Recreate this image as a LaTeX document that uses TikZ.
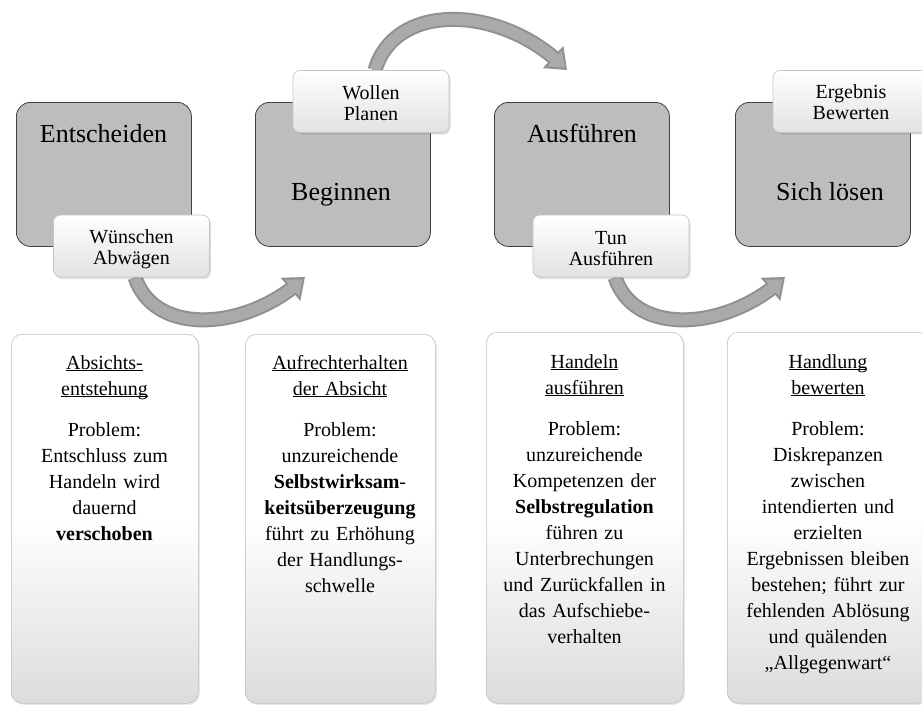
\documentclass[tikz,border=0pt]{standalone}
\usepackage{fontspec}
\setmainfont{Liberation Serif}
\usetikzlibrary{arrows.meta,bending,shadows,backgrounds}
\definecolor{boxgray}{HTML}{BDBDBD}
\definecolor{boxline}{HTML}{404040}
\definecolor{arrowdark}{HTML}{909090}
\definecolor{arrowlight}{HTML}{AAAAAA}
\definecolor{lblbot}{HTML}{E2E2E2}
\definecolor{lblline}{HTML}{C4C4C4}
\definecolor{panelbot}{HTML}{DCDCDC}
\definecolor{panelline}{HTML}{BFBFBF}
\newcommand\ulbox[1]{\underline{\smash{#1}}}
\tikzset{
  phasebox/.style={draw=boxline, line width=0.8pt, fill=boxgray, rounded corners=14pt,
    minimum width=175pt, minimum height=144pt, anchor=north west, inner sep=0pt},
  phasetext/.style={font=\fontsize{26}{30}\selectfont, anchor=base, inner sep=0pt},
  tagbox/.style={draw=lblline, line width=0.6pt, top color=white, bottom color=lblbot,
    rounded corners=7pt, minimum width=156pt, minimum height=62pt, inner sep=0pt,
    drop shadow={opacity=0.25, shadow xshift=1.5pt, shadow yshift=-2pt}},
  tagtext/.style={align=center, font=\fontsize{20}{21}\selectfont, inner sep=0pt},
  panel/.style={draw=panelline, line width=0.6pt, top color=white, bottom color=panelbot,
    middle color=white, rounded corners=11pt, anchor=north west, inner sep=0pt,
    drop shadow={opacity=0.18, shadow xshift=1.5pt, shadow yshift=-1.5pt}},
  paneltext/.style={text width=200pt, align=center, font=\fontsize{20}{26}\selectfont,
    anchor=base, inner sep=0pt},
  arrowout/.style={draw=arrowdark, line width=15pt, -{Triangle[width=29pt,length=19pt]}},
  arrowin/.style={draw=arrowlight, line width=11pt, shorten >=3.3pt,
    -{Triangle[width=20.9pt,length=13.7pt]}},
}
\begin{document}
\begin{tikzpicture}[x=1pt,y=-1pt]
\clip (0,0) rectangle (922,705);
% phase boxes
\node[phasebox] (b1) at (16,102) {};
\node[phasebox] (b2) at (255,102) {};
\node[phasebox] (b3) at (494,102) {};
\node[phasebox] (b4) at (735,102) {};
\node[phasetext] (t1) at (103.5,142) {Entscheiden};
\node[phasetext] (t2) at (341,200) {Beginnen};
\node[phasetext] (t3) at (582,142) {Ausführen};
\node[phasetext] (t4) at (830,200) {Sich lösen};
% tags
\node[tagbox] (l1) at (131.5,246) {};
\node[tagbox] (l2) at (371,101.5) {};
\node[tagbox] (l3) at (611,246) {};
\node[tagbox] (l4) at (851,101.5) {};
\node[tagtext] (l1t) at ([yshift=-3pt]l1.center) {Wünschen\\Abwägen};
\node[tagtext] (l2t) at ([yshift=-2pt]l2.center) {Wollen\\Planen};
\node[tagtext] (l3t) at ([yshift=-3pt]l3.center) {Tun\\Ausführen};
\node[tagtext] (l4t) at ([yshift=-1pt]l4.center) {Ergebnis\\Bewerten};
% arrows
\coordinate (a1e) at (305,277);
\coordinate (a2e) at (567,70);
\coordinate (a3e) at (785,277);
\begin{scope}[on background layer]
\fill[white] (0,0) rectangle (922,705);
\foreach \s in {arrowout,arrowin}{
  \draw[\s] ([xshift=3.5pt]l1.south) .. controls (155,338) and (250,330) .. (a1e);
  \draw[\s] ([xshift=4pt]l2.north) .. controls (395,0) and (505,5) .. (a2e);
  \draw[\s] ([xshift=4pt]l3.south) .. controls (635,338) and (730,330) .. (a3e);
}
\end{scope}
% panels
\node[panel, minimum width=187pt, minimum height=369pt] (p1) at (11,334) {};
\node[panel, minimum width=190pt, minimum height=369pt] (p2) at (245,334) {};
\node[panel, minimum width=197pt, minimum height=371pt] (p3) at (486,332) {};
\node[panel, minimum width=201pt, minimum height=371pt] (p4) at (727,332) {};
\node[paneltext] (q1) at (104.5,369) {\ulbox{Absichts-}\\\ulbox{entstehung}\\[15pt]Problem:\\Entschluss zum\\Handeln wird\\dauernd\\\textbf{verschoben}};
\node[paneltext] (q2) at (340,369) {\ulbox{Aufrechterhalten}\\\ulbox{der Absicht}\\[15pt]Problem:\\unzureichende\\\textbf{Selbstwirksam}-\\\textbf{keitsüberzeugung}\\führt zu Erhöhung\\der Handlungs-\\schwelle};
\node[paneltext] (q3) at (584.5,368) {\ulbox{Handeln}\\\ulbox{ausführen}\\[15pt]Problem:\\unzureichende\\Kompetenzen der\\\textbf{Selbstregulation}\\führen zu\\Unterbrechungen\\und Zurückfallen in\\das Aufschiebe-\\verhalten};
\node[paneltext] (q4) at (828,368) {\ulbox{Handlung}\\\ulbox{bewerten}\\[15pt]Problem:\\Diskrepanzen\\zwischen\\intendierten und\\erzielten\\Ergebnissen bleiben\\bestehen; führt zur\\fehlenden Ablösung\\und quälenden\\„Allgegenwart“};
\end{tikzpicture}
\end{document}
